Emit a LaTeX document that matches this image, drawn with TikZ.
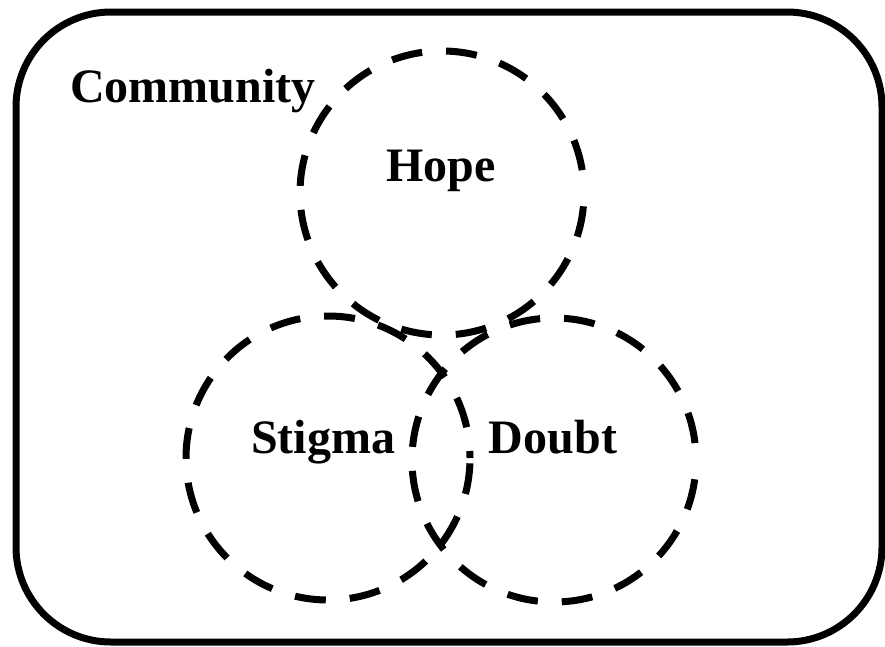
\documentclass[tikz,border=0pt]{standalone}
\usepackage{fontspec}
\setmainfont{Liberation Serif}
\begin{document}
\begin{tikzpicture}[x=1pt,y=-1pt,
  frame/.style={draw=black, line width=7pt, rounded corners=95pt},
  ring/.style={circle, draw=black, line width=7pt, minimum size=284pt, inner sep=0pt,
    dash pattern=on 31pt off 24pt},
  lbl/.style={anchor=base, inner sep=0pt, font=\fontsize{48}{57}\selectfont\bfseries}]
\useasboundingbox (0,0) rectangle (885,646);
\draw[frame] (16,12) rectangle (882,642);
\node[ring, dash phase=32pt] (hope) at (442,193) {};
\node[ring, dash phase=24pt] (stigma) at (328,458) {};
\node[ring, dash phase=38pt] (doubt) at (554,460) {};
\node[lbl, anchor=base west] (community) at (70,102) {Community};
\node[lbl] (hopet) at (441,181) {Hope};
\node[lbl] (stigmat) at (323,453) {Stigma};
\node[lbl] (doubtt) at (553,453) {Doubt};
\end{tikzpicture}
\end{document}
